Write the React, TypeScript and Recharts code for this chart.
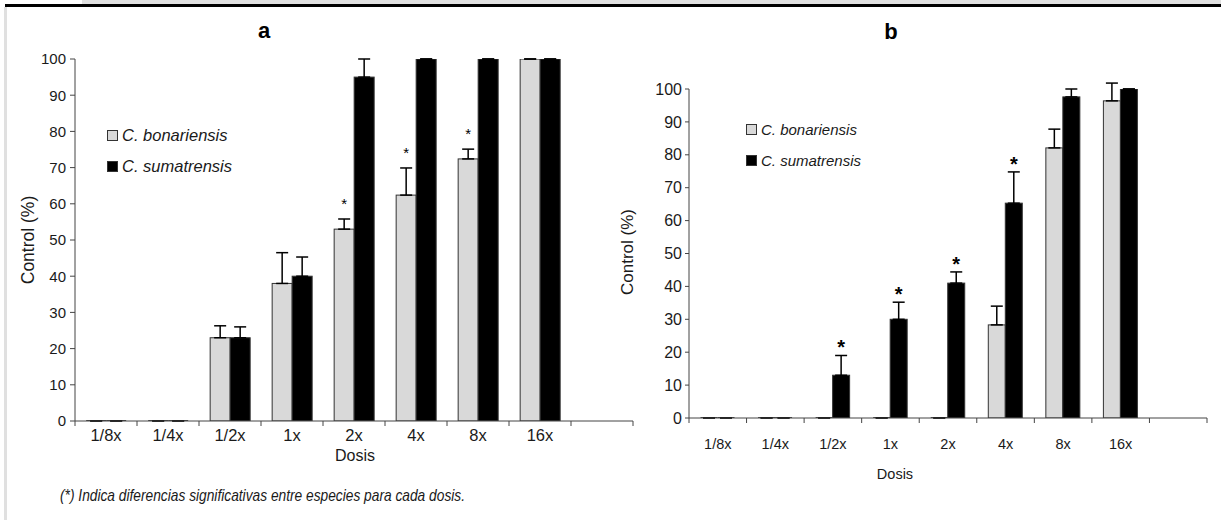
import React from 'react'
import { BarChart, Bar, XAxis, YAxis, ErrorBar, Legend } from 'recharts'

const FONT = '"Liberation Sans", Arial, Helvetica, sans-serif'

const dosis = ['1/8x', '1/4x', '1/2x', '1x', '2x', '4x', '8x', '16x', '']
const especies = ['C. bonariensis', 'C. sumatrensis']
const colores = ['#d9d9d9', '#000000']
const yTicks = [0, 10, 20, 30, 40, 50, 60, 70, 80, 90, 100]

// panel a
const bonariensisA = [0, 0, 23, 38, 53, 62.4, 72.4, 100, null]
const bonariensisErrA = [0, 0, 3.3, 8.5, 2.8, 7.5, 2.7, 0, null]
const bonariensisSigA = [false, false, false, false, true, true, true, false, false]
const sumatrensisA = [0, 0, 23, 40, 95, 100, 100, 100, null]
const sumatrensisErrA = [0, 0, 3, 5.3, 5, 0, 0, 0, null]
const sumatrensisSigA = [false, false, false, false, false, false, false, false, false]

// panel b
const bonariensisB = [0, 0, 0, 0, 0, 28.3, 82.1, 96.4, null]
const bonariensisErrB = [0, 0, 0, 0, 0, 5.7, 5.7, 5.4, null]
const bonariensisSigB = [false, false, false, false, false, false, false, false, false]
const sumatrensisB = [0, 0, 13, 30, 41, 65.3, 97.6, 100, null]
const sumatrensisErrB = [0, 0, 6, 5.2, 3.4, 9.5, 2.4, 0, null]
const sumatrensisSigB = [false, false, true, true, true, true, true, false, false]

function buildData(bon, bonErr, sum, sumErr) {
  return dosis.map((d, i) => ({
    dosis: d,
    bon: bon[i],
    bonErr: bonErr[i] == null ? null : [0, bonErr[i]],
    sum: sum[i],
    sumErr: sumErr[i] == null ? null : [0, sumErr[i]],
  }))
}

function makeShape(key, errs, sig, fill, starSize, starWeight, starGap) {
  return (p: any) => {
    const { x, y, width, height, index } = p
    const v = p.payload ? p.payload[key] : null
    if (v == null) return <g />
    if (!height || height <= 0.5) {
      return <line x1={x} x2={x + width} y1={y} y2={y} stroke="#444" strokeWidth={2} />
    }
    const pxPerUnit = height / v
    const capY = y - (errs[index] || 0) * pxPerUnit
    return (
      <g>
        <rect x={x} y={y} width={width} height={height} fill={fill} stroke="#333" strokeWidth={1} />
        {sig[index] && (
          <text x={x + width / 2} y={capY - starGap} textAnchor="middle" fontSize={starSize} fontWeight={starWeight} fontFamily={FONT} fill="#000">
            *
          </text>
        )}
      </g>
    )
  }
}

const doseTick = (fontSize, dy) => (p: any) => {
  const { x, y, payload, index, visibleTicksCount, width } = p
  const half = payload && payload.offset ? payload.offset : width / visibleTicksCount / 2
  const last = index === dosis.length - 1
  return (
    <g>
      <line x1={x - half} x2={x - half} y1={y} y2={y + 5} stroke="#444" />
      {last && <line x1={x + half} x2={x + half} y1={y} y2={y + 5} stroke="#444" />}
      <text x={x} y={y + dy} textAnchor="middle" fontSize={fontSize} fontFamily={FONT} fill="#1a1a1a">
        {payload.value}
      </text>
    </g>
  )
}

function Leyenda({ fontSize, rowH }) {
  return (
    <div>
      {especies.map((n, i) => (
        <div key={n} style={{ display: 'flex', alignItems: 'center', height: rowH, fontFamily: FONT, fontStyle: 'italic', fontSize, color: '#1a1a1a' }}>
          <span style={{ display: 'inline-block', width: 11, height: 11, background: colores[i], border: '1px solid #333', boxSizing: 'border-box', marginRight: 4 }} />
          {n}
        </div>
      ))}
    </div>
  )
}

function Panel(props: any) {
  const {
    left, width, height, margin, yWidth, xHeight, data, gapPct,
    tickFont, tickDy, yFont, ySize, yGap, legend, star,
    bonErr, bonSig, sumErr, sumSig,
  } = props
  return (
    <div style={{ position: 'absolute', left, top: 0 }}>
      <BarChart width={width} height={height} data={data} margin={margin} barCategoryGap={gapPct} barGap={0}>
        <XAxis
          dataKey="dosis"
          interval={0}
          height={xHeight}
          tickSize={0}
          tickMargin={0}
          tickLine={false}
          axisLine={{ stroke: '#444' }}
          tick={doseTick(tickFont, tickDy)}
        />
        <YAxis
          domain={[0, 100]}
          ticks={yTicks}
          interval={0}
          width={yWidth}
          tickSize={ySize}
          tickMargin={yGap}
          axisLine={{ stroke: '#444' }}
          tickLine={{ stroke: '#444' }}
          tick={{ fontSize: yFont, fill: '#1a1a1a', fontFamily: FONT }}
          allowDataOverflow
        />
        <Legend
          layout="vertical"
          align="center"
          verticalAlign="middle"
          wrapperStyle={{ left: legend.x, top: legend.y, width: 'auto' }}
          content={() => <Leyenda fontSize={legend.font} rowH={31} />}
        />
        <Bar dataKey="bon" fill={colores[0]} isAnimationActive={false}
          shape={makeShape('bon', bonErr, bonSig, colores[0], star.size, star.weight, star.gap)}>
          <ErrorBar dataKey="bonErr" direction="y" width={6} strokeWidth={1.5} stroke="#000" isAnimationActive={false} />
        </Bar>
        <Bar dataKey="sum" fill={colores[1]} isAnimationActive={false}
          shape={makeShape('sum', sumErr, sumSig, colores[1], star.size, star.weight, star.gap)}>
          <ErrorBar dataKey="sumErr" direction="y" width={6} strokeWidth={1.5} stroke="#000" isAnimationActive={false} />
        </Bar>
      </BarChart>
    </div>
  )
}

export default function App() {
  const dataA = buildData(bonariensisA, bonariensisErrA, sumatrensisA, sumatrensisErrA)
  const dataB = buildData(bonariensisB, bonariensisErrB, sumatrensisB, sumatrensisErrB)
  return (
    <div style={{ position: 'absolute', left: 0, top: 0, width: 1221, height: 520, background: '#fff', overflow: 'hidden' }}>
      <Panel
        left={0} width={640} height={470}
        margin={{ top: 59, right: 7, bottom: 9, left: 0 }}
        yWidth={75} xHeight={40} data={dataA} gapPct="18%"
        tickFont={16.5} tickDy={20} yFont={15} ySize={5} yGap={4}
        legend={{ x: 107, y: 120, font: 16.5 }}
        star={{ size: 15, weight: 'normal', gap: 10 }}
        bonErr={bonariensisErrA} bonSig={bonariensisSigA} sumErr={sumatrensisErrA} sumSig={sumatrensisSigA}
      />
      <Panel
        left={600} width={621} height={500}
        margin={{ top: 89, right: 14, bottom: 22, left: 0 }}
        yWidth={89} xHeight={60} data={dataB} gapPct="20%"
        tickFont={14.5} tickDy={31} yFont={16} ySize={4} yGap={3}
        legend={{ x: 146, y: 114, font: 15 }}
        star={{ size: 20, weight: 'bold', gap: 1 }}
        bonErr={bonariensisErrB} bonSig={bonariensisSigB} sumErr={sumatrensisErrB} sumSig={sumatrensisSigB}
      />
      <svg width={1221} height={520} style={{ position: 'absolute', left: 0, top: 0, pointerEvents: 'none' }}>
        <rect x={82} y={0} width={1139} height={4} fill="#e0e0e0" />
        <rect x={5} y={4} width={1216} height={3} fill="#000" />
        <rect x={4} y={7} width={3} height={513} fill="#e0e0e0" />
        <text x={264} y={38} textAnchor="middle" fontSize={22} fontWeight="bold" fontFamily={FONT}>a</text>
        <text x={891} y={39} textAnchor="middle" fontSize={22} fontWeight="bold" fontFamily={FONT}>b</text>
        <text transform="translate(34,240) rotate(-90)" textAnchor="middle" fontSize={17.5} fontFamily={FONT} fill="#1a1a1a">Control (%)</text>
        <text transform="translate(633,252) rotate(-90)" textAnchor="middle" fontSize={17} fontFamily={FONT} fill="#1a1a1a">Control (%)</text>
        <text x={355} y={461} textAnchor="middle" fontSize={16} fontFamily={FONT} fill="#1a1a1a">Dosis</text>
        <text x={895} y={479} textAnchor="middle" fontSize={14.5} fontFamily={FONT} fill="#1a1a1a">Dosis</text>
        <text x={60} y={501} fontSize={17} fontStyle="italic" fontFamily={FONT} fill="#1a1a1a"
          textLength={405} lengthAdjust="spacingAndGlyphs">
          (*) Indica diferencias significativas entre especies para cada dosis.
        </text>
      </svg>
    </div>
  )
}
